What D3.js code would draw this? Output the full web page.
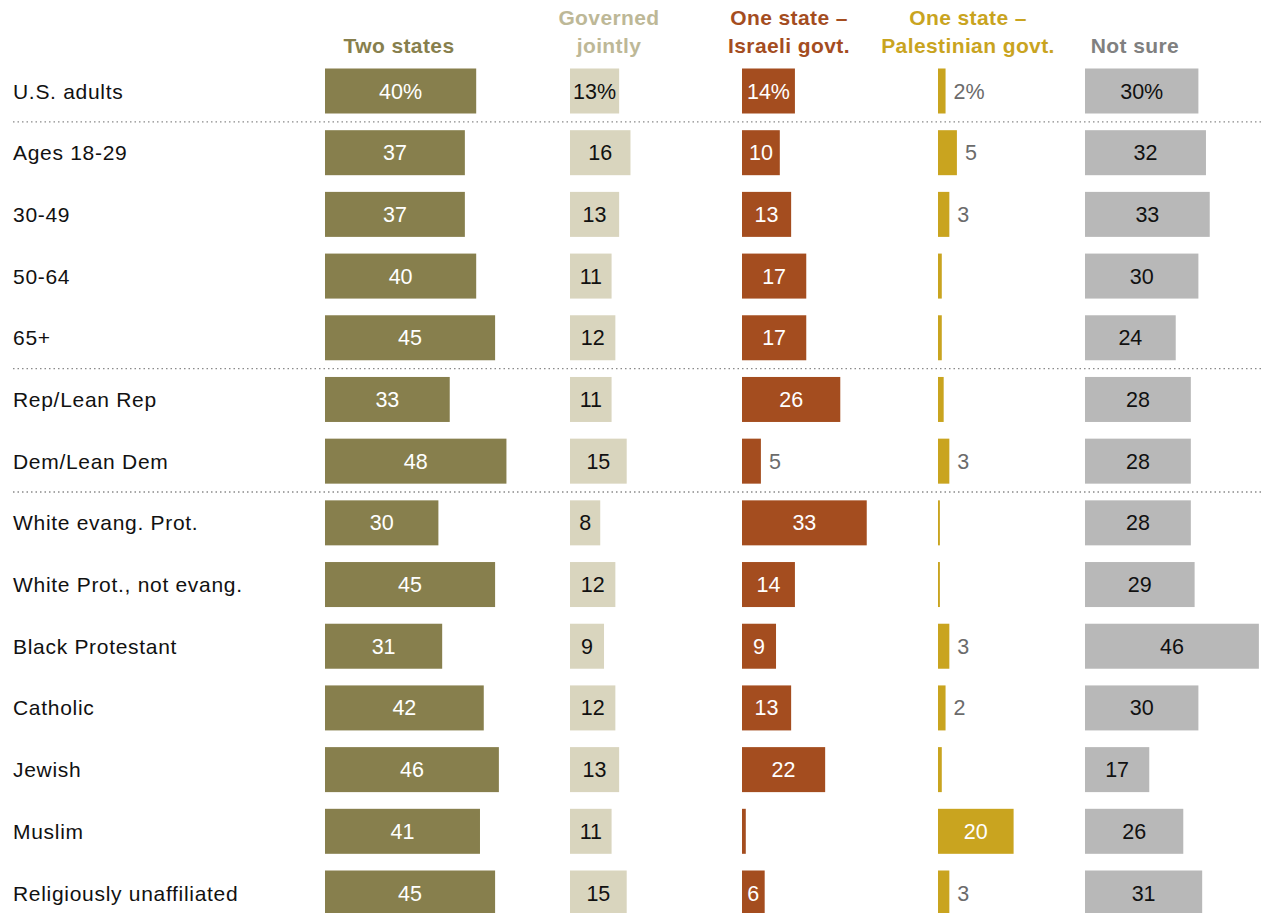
<!DOCTYPE html>
<html>
<head>
<meta charset="utf-8">
<script src="https://cdn.jsdelivr.net/npm/d3@7"></script>
<style>
  html, body { margin: 0; padding: 0; background: #fff; }
  svg { display: block; }
  text { font-family: "Liberation Sans", Arial, sans-serif; }
</style>
</head>
<body>
<svg id="chart" width="1265" height="913"></svg>
<script>
const categories = ["U.S. adults", "Ages 18-29", "30-49", "50-64", "65+", "Rep/Lean Rep", "Dem/Lean Dem",
  "White evang. Prot.", "White Prot., not evang.", "Black Protestant", "Catholic", "Jewish", "Muslim", "Religiously unaffiliated"];
const seriesNames = [["Two states"], ["Governed", "jointly"], ["One state \u2013", "Israeli govt."], ["One state \u2013", "Palestinian govt."], ["Not sure"]];
const twoStates      = [40, 37, 37, 40, 45, 33, 48, 30, 45, 31, 42, 46, 41, 45];
const governedJointly = [13, 16, 13, 11, 12, 11, 15, 8, 12, 9, 12, 13, 11, 15];
const israeliGovt    = [14, 10, 13, 17, 17, 26, 5, 33, 14, 9, 13, 22, 1, 6];
const palestinianGovt = [2, 5, 3, 1, 1, 1.5, 3, 0.5, 0.5, 3, 2, 1, 20, 3];
const notSure        = [30, 32, 33, 30, 24, 28, 28, 28, 29, 46, 30, 17, 26, 31];
const dividersAfter = ["U.S. adults", "65+", "Dem/Lean Dem"];

const series = [twoStates, governedJointly, israeliGovt, palestinianGovt, notSure];
const barColors = ["#877f4d", "#d9d5be", "#a44d1f", "#c9a41f", "#b8b8b8"];
const headColors = ["#877f4d", "#bdb897", "#a44d1f", "#c9a41f", "#808080"];
const insideText = ["#ffffff", "#111111", "#ffffff", "#ffffff", "#111111"];
const colX = [325, 570, 742, 938, 1085];
const headX = [399, 609, 789, 968, 1135];

const svg = d3.select("#chart");
const y = d3.scalePoint().domain(categories).range([91, 893]);
const x = d3.scaleLinear().domain([0, 100]).range([0, 378]);
const barH = 45;

// headers
seriesNames.forEach((lines, i) => {
  const t = svg.append("text")
    .attr("x", headX[i]).attr("text-anchor", "middle")
    .attr("font-weight", "bold").attr("font-size", 21).attr("letter-spacing", 0.4)
    .attr("fill", headColors[i]);
  const n = lines.length;
  lines.forEach((l, j) => {
    t.append("tspan").attr("x", headX[i]).attr("y", 53 - (n - 1 - j) * 28).text(l);
  });
});

// row labels
svg.selectAll("text.rowlab").data(categories).join("text")
  .attr("class", "rowlab")
  .attr("x", 13).attr("y", d => y(d) + 7.5)
  .attr("font-size", 21).attr("letter-spacing", 0.7).attr("fill", "#111")
  .text(d => d);

// dividers
const step = y.step();
svg.selectAll("line.div").data(dividersAfter).join("line")
  .attr("class", "div")
  .attr("x1", 13).attr("x2", 1262)
  .attr("y1", d => y(d) + step / 2).attr("y2", d => y(d) + step / 2)
  .attr("stroke", "#8a8a8a").attr("stroke-width", 1.3)
  .attr("stroke-dasharray", "1.5,3");

// bars
series.forEach((vals, i) => {
  const g = svg.append("g").attr("transform", `translate(${colX[i]},0)`);
  const rows = categories.map((c, k) => ({ c, v: vals[k], k }));
  g.selectAll("rect").data(rows).join("rect")
    .attr("x", 0).attr("y", d => y(d.c) - barH / 2)
    .attr("width", d => x(d.v)).attr("height", barH)
    .attr("fill", barColors[i]);
  g.selectAll("text").data(rows.filter(d => d.v >= 2)).join("text")
    .attr("x", d => d.v >= 6 ? x(d.v) / 2 : x(d.v) + 8)
    .attr("y", d => y(d.c) + 7.5)
    .attr("text-anchor", d => d.v >= 6 ? "middle" : "start")
    .attr("font-size", 21.5)
    .attr("fill", d => d.v >= 6 ? insideText[i] : "#6b6b6b")
    .text(d => d.v + (d.k === 0 ? "%" : ""));
});
</script>
</body>
</html>
